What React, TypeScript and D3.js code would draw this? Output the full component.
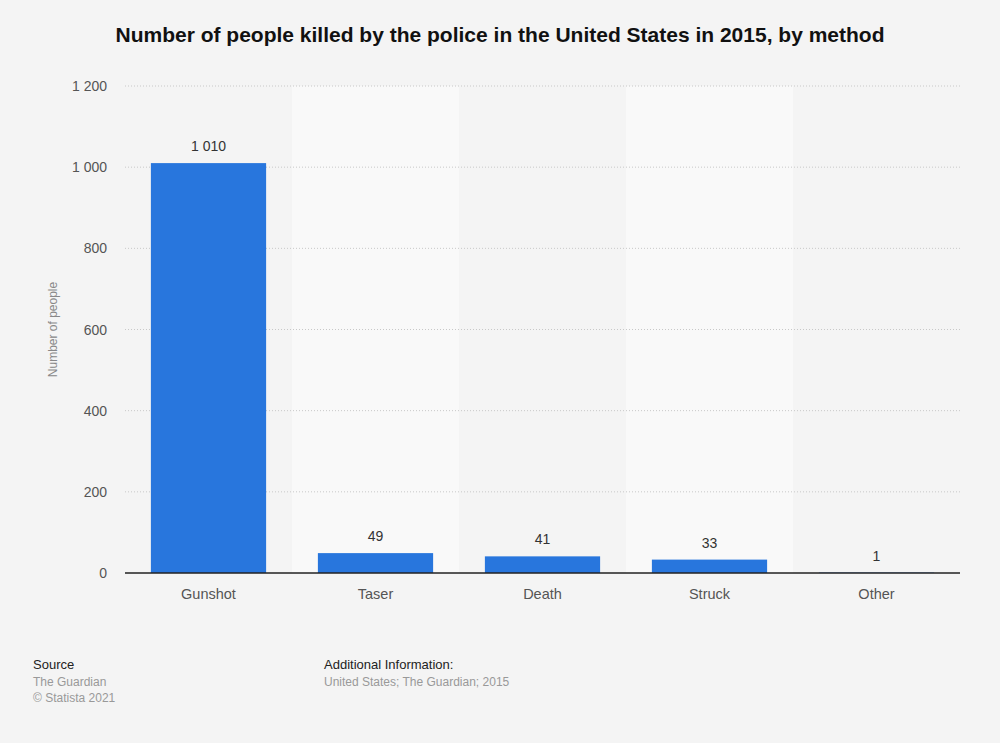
import React from "react";
import * as d3 from "d3";

const categories = ["Gunshot", "Taser", "Death", "Struck", "Other"];
const values = [1010, 49, 41, 33, 1];
const yTicks = [0, 200, 400, 600, 800, 1000, 1200];

const W = 1000;
const H = 743;
const M = { left: 125, right: 40, top: 86, bottom: 170 };

const fmt = (v: number) => d3.format(",")(v).replace(/,/g, " ");

export default function App() {
  const x = d3
    .scaleBand<string>()
    .domain(categories)
    .range([M.left, W - M.right])
    .paddingInner(0.31)
    .paddingOuter(0.155);
  const bandX = d3.scaleBand<string>().domain(categories).range([M.left, W - M.right]);
  const y = d3.scaleLinear().domain([0, 1200]).range([H - M.bottom, M.top]);
  const font = "'Liberation Sans', Arial, sans-serif";

  return (
    <svg width={W} height={H} style={{ position: "absolute", left: 0, top: 0, background: "#f4f4f4" }} fontFamily={font}>
      <rect x={0} y={0} width={W} height={H} fill="#f4f4f4" />
      <text x={500} y={42} textAnchor="middle" fontSize={21} fontWeight="bold" fill="#111">
        Number of people killed by the police in the United States in 2015, by method
      </text>
      {categories.map((c, i) =>
        i % 2 === 1 ? (
          <rect key={c} x={bandX(c)} y={y(1200)} width={bandX.bandwidth()} height={y(0) - y(1200)} fill="#f9f9f9" />
        ) : null
      )}
      {yTicks.map((t) => (
        <g key={t}>
          {t > 0 && (
            <line x1={M.left} x2={W - M.right} y1={y(t)} y2={y(t)} stroke="#c8c8c8" strokeDasharray="1,2" />
          )}
          <text x={107} y={y(t) + 5} textAnchor="end" fontSize={14} fill="#555">
            {fmt(t)}
          </text>
        </g>
      ))}
      <text transform={`translate(57, ${(y(0) + y(1200)) / 2}) rotate(-90)`} textAnchor="middle" fontSize={12} fill="#888">
        Number of people
      </text>
      {categories.map((c, i) => (
        <g key={c}>
          <rect x={x(c)} y={y(values[i])} width={x.bandwidth()} height={y(0) - y(values[i])} fill="#2876dd" />
          <text x={(x(c) as number) + x.bandwidth() / 2} y={y(values[i]) - 12} textAnchor="middle" fontSize={14} fill="#333">
            {fmt(values[i])}
          </text>
          <text x={(x(c) as number) + x.bandwidth() / 2} y={y(0) + 26} textAnchor="middle" fontSize={14.5} fill="#555">
            {c}
          </text>
        </g>
      ))}
      <line x1={M.left} x2={W - M.right} y1={y(0)} y2={y(0)} stroke="#222" strokeWidth={1.5} />
      <text x={33} y={669} fontSize={13} fill="#222">Source</text>
      <text x={33} y={686} fontSize={12} fill="#999">The Guardian</text>
      <text x={33} y={702} fontSize={12} fill="#999">© Statista 2021</text>
      <text x={324} y={669} fontSize={13} fill="#222">Additional Information:</text>
      <text x={324} y={686} fontSize={12} fill="#999">United States; The Guardian; 2015</text>
    </svg>
  );
}
